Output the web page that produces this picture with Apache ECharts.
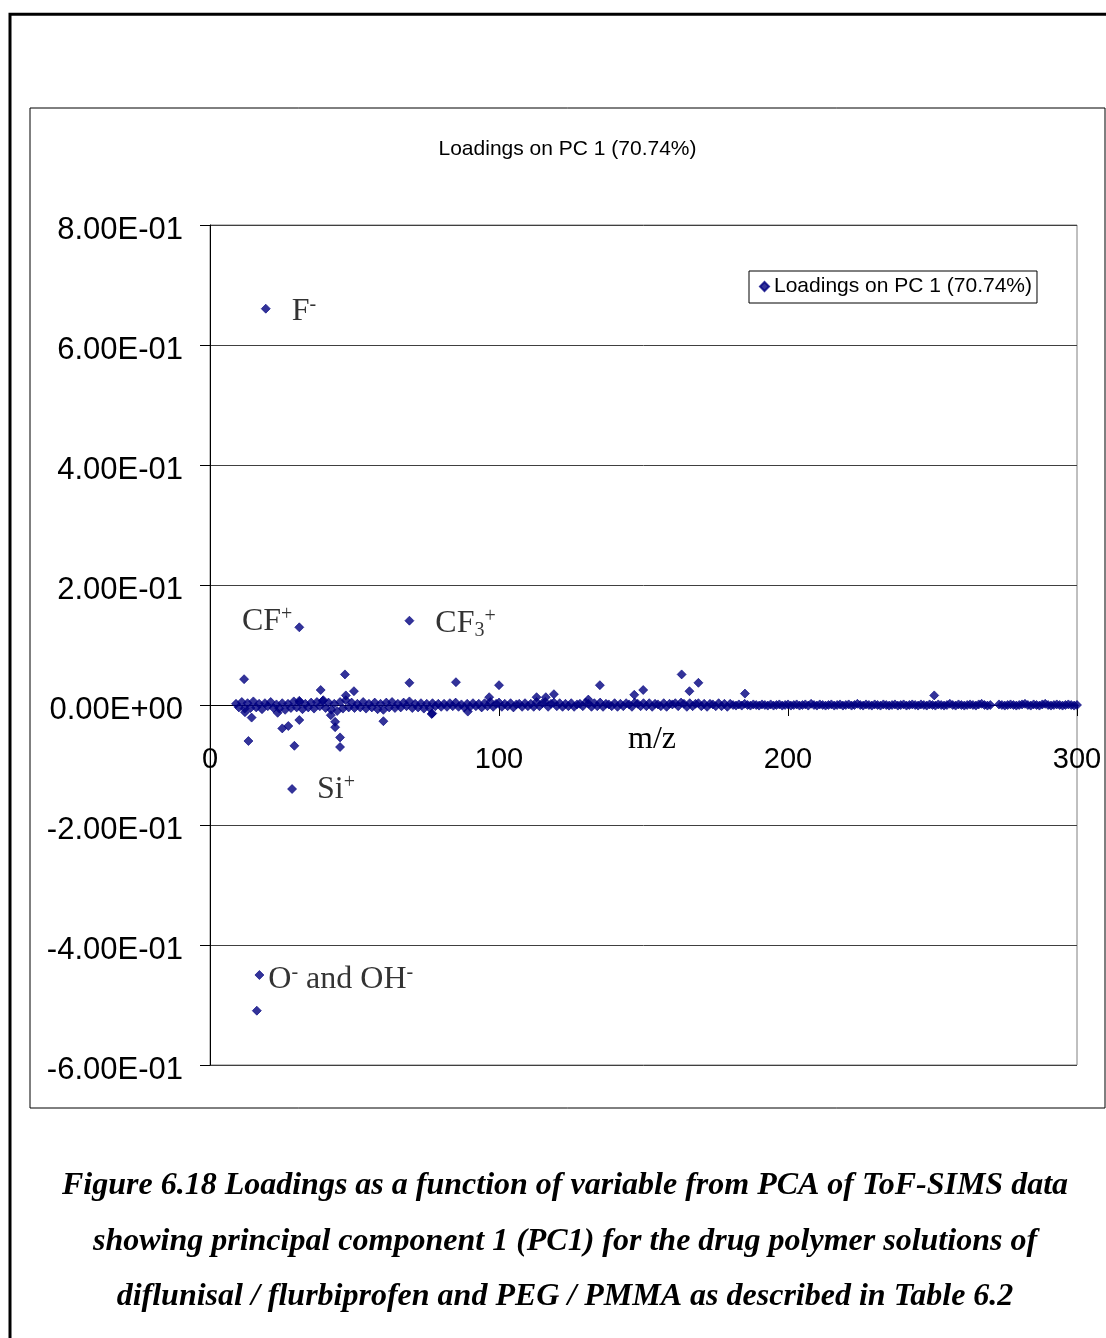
<!DOCTYPE html>
<html>
<head>
<meta charset="utf-8">
<script src="https://cdn.jsdelivr.net/npm/echarts@6/dist/echarts.min.js"></script>
<style>
html,body{margin:0;padding:0;background:#fff;}
#c{width:1106px;height:1338px;}
</style>
</head>
<body>
<div id="c"></div>
<script>
// ---- DATA ----
const chartTitle = 'Loadings on PC 1 (70.74%)';
const seriesName = 'Loadings on PC 1 (70.74%)';
const xAxisName = 'm/z';
const xTickValues = [0, 100, 200, 300];
const xTickLabels = ['0', '100', '200', '300'];
const yTickValues = [-0.6, -0.4, -0.2, 0, 0.2, 0.4, 0.6, 0.8];
const yTickLabels = ['-6.00E-01', '-4.00E-01', '-2.00E-01', '0.00E+00', '2.00E-01', '4.00E-01', '6.00E-01', '8.00E-01'];

// dense band of near-zero loadings
const bandMz = [
  9,10,11,12,13,14,15,16,17,18,19,20,21,22,23,24,25,26,27,28,29,30,31,32,33,34,35,36,37,38,39,40,
  41,42,43,44,45,46,47,48,49,50,51,52,53,54,55,56,57,58,59,60,61,62,63,64,65,66,67,68,69,70,
  71,72,73,74,75,76,77,78,79,80,81,82,83,84,85,86,87,88,89,90,91,92,93,94,95,96,97,98,99,100,
  101,102,103,104,105,106,107,108,109,110,111,112,113,114,115,116,117,118,119,120,
  121,122,123,124,125,126,127,128,129,130,131,132,133,134,135,136,137,138,139,140,
  141,142,143,144,145,146,147,148,149,150,151,152,153,154,155,156,157,158,159,160,
  161,162,163,164,165,166,167,168,169,170,171,172,173,174,175,176,177,178,179,180,
  181,182,183,184,185,186,187,188,189,190,191,192,193,194,195,196,197,198,199,200,
  201,202,203,204,205,206,207,208,209,210,211,212,213,214,215,216,217,218,219,220,
  221,222,223,224,225,226,227,228,229,230,231,232,233,234,235,236,237,238,239,240,
  241,242,243,244,245,246,247,248,249,250,251,252,253,254,255,256,257,258,259,260,
  261,262,263,264,265,266,267,268,269,270,273,274,275,276,277,278,279,280,
  281,282,283,284,285,286,287,288,289,290,291,292,293,294,295,296,297,298,299,300
];
const bandLoading = [
  0.002,-0.004,0.005,-0.006,0.003,-0.005,0.006,-0.004,0.002,-0.007,0.003,-0.002,0.005,-0.005,0.001,-0.006,
  0.003,-0.008,0.002,-0.005,0.006,-0.004,0.005,-0.007,0.002,-0.004,0.004,-0.006,0.005,-0.002,0.007,-0.005,
  0.004,-0.008,0.002,-0.010,0.005,-0.006,0.008,-0.004,0.004,-0.005,0.002,-0.004,0.005,-0.006,0.002,-0.004,
  0.004,-0.007,0.002,-0.008,0.004,-0.004,0.005,-0.005,0.002,-0.004,0.004,-0.002,0.006,-0.005,
  0.002,-0.004,0.003,-0.006,0.002,-0.005,0.003,-0.002,0.002,-0.003,
  0.002,-0.003,0.003,-0.002,0.004,-0.003,0.001,-0.004,0.002,-0.003,
  0.003,-0.002,0.002,-0.004,0.003,-0.002,0.005,-0.003,0.002,0.004,
  -0.003,0.002,-0.002,0.003,-0.004,0.001,0.002,-0.003,0.003,-0.002,
  0.002,-0.003,0.005,-0.002,0.003,0.005,-0.003,0.002,0.004,-0.002,
  0.003,-0.003,0.002,-0.002,0.003,-0.003,0.001,0.002,-0.002,0.004,
  0.002,-0.003,0.003,-0.002,0.004,-0.003,0.002,0.001,-0.002,0.003,
  -0.003,0.002,-0.002,0.003,0.001,-0.003,0.004,0.002,-0.002,0.003,
  -0.002,0.003,-0.003,0.002,0.001,-0.002,0.003,-0.003,0.002,0.001,
  0.003,-0.002,0.004,0.002,-0.003,0.003,-0.002,0.002,0.003,-0.002,
  0.002,-0.003,0.002,0.001,-0.002,0.003,-0.002,0.002,-0.003,0.002,
  0.000,-0.001,0.001,-0.001,0.002,0.000,-0.001,0.001,0.000,-0.001,
  0.001,0.000,-0.001,0.001,-0.001,0.000,0.001,-0.001,0.000,0.001,
  -0.001,0.000,0.001,-0.001,0.000,0.001,-0.001,0.002,0.000,-0.001,
  0.001,0.000,-0.001,0.000,0.001,-0.001,0.000,0.001,-0.001,0.000,
  0.001,-0.001,0.000,0.002,0.000,-0.001,0.001,0.000,-0.001,0.001,
  0.000,-0.001,0.001,0.000,-0.001,0.000,0.001,-0.001,0.000,0.001,
  -0.001,0.000,0.001,0.000,-0.001,0.001,0.000,-0.001,0.001,0.000,
  -0.001,0.001,0.000,-0.001,0.000,0.002,0.000,-0.001,0.001,0.000,
  -0.001,0.000,0.001,0.000,-0.001,0.001,0.002,0.000,-0.001,0.000,
  0.001,0.000,-0.001,0.000,0.001,0.000,-0.001,0.000,
  0.001,0.002,0.000,-0.001,0.001,0.000,-0.001,0.001,0.002,0.000,
  -0.001,0.000,0.001,0.000,-0.001,0.000,0.001,0.000,-0.001,0.000
];

// moderately deviating variables
const minorMz = [11.8,46.7,38.3,49.8,69.0,47.0,13.3,29.2,45.0,45.0,43.3,25.0,27.1,14.4,30.9,60.0,23.4,12.1,41.8,43.3,
  76.9,39.2,30.9,85.1,100.0,134.9,163.2,165.9,119.0,149.9,146.8,96.6,113.0,116.2,130.9,76.7,89.2,169.0,185.1,250.6];
const minorLoading = [0.043,0.051,0.025,0.023,0.037,0.016,-0.060,-0.068,-0.054,-0.070,-0.037,-0.039,-0.035,-0.021,-0.025,-0.027,-0.013,-0.012,-0.017,-0.028,
  -0.014,0.008,0.007,0.038,0.033,0.033,0.051,0.023,0.018,0.025,0.017,0.013,0.013,0.013,0.009,-0.015,-0.011,0.037,0.019,0.016];

// labelled peaks
const peakNames = ['F', 'CF', 'CF3', 'Si', 'O', 'O2'];
const peakMz = [19.3, 30.9, 69.0, 28.4, 17.1, 16.2];
const peakLoading = [0.6605, 0.1295, 0.1405, -0.140, -0.450, -0.5095];
const peakLabels = ['{t|F}{sup|-}', '{t|CF}{sup|+}', '{t|CF}{sub|3}{sup|+}', '{t|Si}{sup|+}', '{t|O}{sup|-}{t| and OH}{sup|-}', ''];

const captionLines = [
  'Figure 6.18 Loadings as a function of variable from PCA of ToF-SIMS data',
  'showing principal component 1 (PC1) for the drug polymer solutions of',
  'diflunisal / flurbiprofen and PEG / PMMA as described in Table 6.2'
];

// ---- STYLE / BUILD ----
const peakLabelStyle = {
  F:   {position: 'right', distance: 21, offset: [0, 3]},
  CF:  {position: 'left', distance: 2, offset: [0, -6]},
  CF3: {position: 'right', distance: 21, offset: [0, 3]},
  Si:  {position: 'right', distance: 20, offset: [0, 1]},
  O:   {position: 'right', distance: 4, offset: [0, 5]},
  O2:  {}
};
const serif = '"Liberation Serif", "Times New Roman", serif';
const sans = '"Liberation Sans", Arial, sans-serif';
const rich = {
  t: {fontFamily: serif, fontSize: 32, lineHeight: 34, color: '#000'},
  sup: {fontFamily: serif, fontSize: 20, lineHeight: 10, verticalAlign: 'top', color: '#000'},
  sub: {fontFamily: serif, fontSize: 20, lineHeight: 12, verticalAlign: 'bottom', color: '#000'}
};

const data = [];
bandMz.forEach((m, i) => data.push([m, bandLoading[i]]));
minorMz.forEach((m, i) => data.push([m, minorLoading[i]]));
peakMz.forEach((m, i) => {
  const item = {value: [m, peakLoading[i]]};
  if (peakLabels[i]) {
    const s = peakLabelStyle[peakNames[i]];
    item.label = Object.assign({show: true, formatter: peakLabels[i], rich: rich}, s);
  }
  data.push(item);
});

function lookupLabel(values, labels, v) {
  let best = 0;
  values.forEach((x, i) => { if (Math.abs(x - v) < Math.abs(values[best] - v)) best = i; });
  return labels[best];
}

const chart = echarts.init(document.getElementById('c'), null, {renderer: 'canvas'});
chart.setOption({
  animation: false,
  backgroundColor: '#fff',
  title: {
    text: chartTitle,
    left: 562.5,
    top: 134,
    textAlign: 'center',
    textStyle: {fontFamily: sans, fontSize: 21, fontWeight: 'normal', color: '#000'}
  },
  legend: {
    data: [{name: seriesName, icon: 'diamond'}],
    left: 749,
    top: 271,
    orient: 'vertical',
    itemWidth: 9,
    itemHeight: 9,
    padding: [5, 5, 6, 10],
    borderColor: '#000',
    borderWidth: 1,
    backgroundColor: '#fff',
    textStyle: {fontFamily: sans, fontSize: 21, color: '#000'}
  },
  grid: {
    left: 210, top: 225, right: 29, bottom: 273,
    show: true, borderColor: '#808080', borderWidth: 1
  },
  xAxis: {
    type: 'value',
    min: 0, max: 300, interval: 100,
    axisLine: {show: true, onZero: true, lineStyle: {color: '#000', width: 1}},
    axisTick: {show: true, inside: false, length: 11, lineStyle: {color: '#000'}},
    axisLabel: {
      margin: -320, fontFamily: sans, fontSize: 29, color: '#000',
      formatter: v => lookupLabel(xTickValues, xTickLabels, v)
    },
    splitLine: {show: false}
  },
  yAxis: {
    type: 'value',
    min: -0.6, max: 0.8, interval: 0.2,
    axisLine: {show: true, onZero: false, lineStyle: {color: '#000', width: 1}},
    axisTick: {show: true, inside: false, length: 10, lineStyle: {color: '#000'}},
    axisLabel: {
      margin: 27, color: '#000',
      formatter: v => '{a|' + lookupLabel(yTickValues, yTickLabels, v) + '}',
      rich: {a: {fontFamily: sans, fontSize: 31, color: '#000', padding: [10, 0, 0, 0]}}
    },
    splitLine: {show: true, lineStyle: {color: '#404040', width: 1}}
  },
  series: [{
    name: seriesName,
    type: 'scatter',
    symbol: 'diamond',
    symbolSize: 9,
    itemStyle: {color: '#000080', borderColor: '#000080', borderWidth: 0.8},
    emphasis: {disabled: true},
    data: data
  }],
  graphic: [
    {type: 'rect', shape: {x: 10, y: 14.3, width: 1110, height: 1340}, style: {fill: 'none', stroke: '#000', lineWidth: 3}, z: 100},
    {type: 'rect', shape: {x: 30, y: 108, width: 1075, height: 1000}, style: {fill: 'none', stroke: '#000', lineWidth: 1}, z: 100},
    {type: 'text', x: 652, y: 740, style: {text: xAxisName, font: '32px ' + serif, fill: '#000', textAlign: 'center', textVerticalAlign: 'middle'}, z: 100},
    {type: 'text', x: 565, y: 1186, style: {text: captionLines[0], font: 'italic bold 32px ' + serif, fill: '#000', textAlign: 'center', textVerticalAlign: 'middle'}, z: 100},
    {type: 'text', x: 565, y: 1242, style: {text: captionLines[1], font: 'italic bold 32px ' + serif, fill: '#000', textAlign: 'center', textVerticalAlign: 'middle'}, z: 100},
    {type: 'text', x: 565, y: 1297, style: {text: captionLines[2], font: 'italic bold 32px ' + serif, fill: '#000', textAlign: 'center', textVerticalAlign: 'middle'}, z: 100}
  ]
});
</script>
</body>
</html>
